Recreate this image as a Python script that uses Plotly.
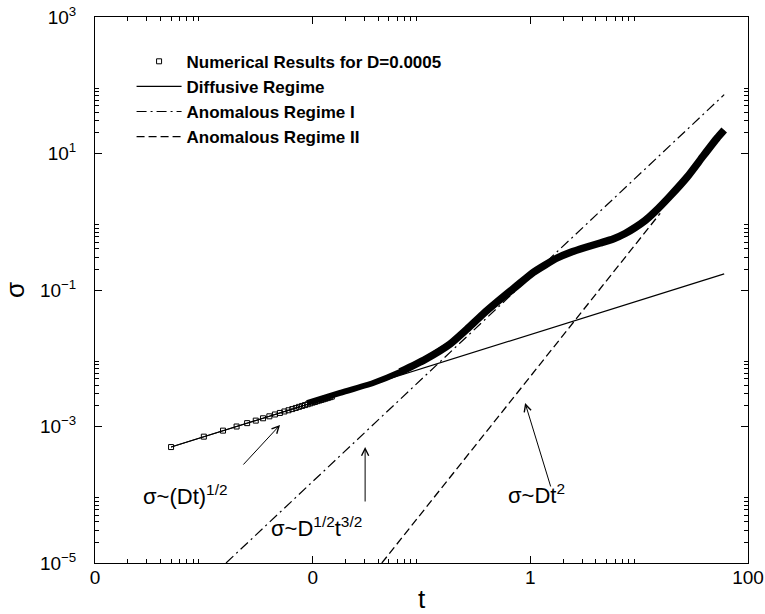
import plotly.graph_objects as go

# ---------------- data ----------------
# early, individually visible numerical points
t_early = [0.0005, 0.001, 0.0015, 0.002, 0.0025, 0.003, 0.0035, 0.004, 0.0045, 0.005,
           0.0055, 0.006, 0.0065, 0.007, 0.0075, 0.008, 0.0085, 0.009, 0.0095, 0.010,
           0.0105, 0.011, 0.0115, 0.012, 0.0125, 0.013, 0.0135, 0.014, 0.0145, 0.015]
sigma_early = [5.0e-4, 7.1e-4, 8.7e-4, 1.0e-3, 1.12e-3, 1.22e-3, 1.32e-3, 1.41e-3, 1.5e-3, 1.58e-3,
               1.66e-3, 1.73e-3, 1.8e-3, 1.87e-3, 1.94e-3, 2.0e-3, 2.06e-3, 2.12e-3, 2.18e-3, 2.24e-3,
               2.29e-3, 2.35e-3, 2.4e-3, 2.45e-3, 2.5e-3, 2.55e-3, 2.6e-3, 2.65e-3, 2.69e-3, 2.74e-3]

# dense part of the numerical results (markers merge into a thick band)
t_band = [0.00888, 0.01786, 0.0359, 0.0636, 0.1079, 0.1832, 0.2625, 0.3683, 0.5278, 0.7565,
          1.061, 1.368, 1.763, 2.321, 3.189, 4.380, 5.768, 7.434, 9.189, 11.35,
          14.03, 19.27, 27.62, 38.74, 52.12, 60.43]
sigma_band = [2.21e-3, 3.10e-3, 4.34e-3, 6.29e-3, 9.59e-3, 0.01618, 0.02683, 0.04451, 0.0726, 0.1164,
              0.1804, 0.2325, 0.2943, 0.3543, 0.4195, 0.4883, 0.5588, 0.6728, 0.8237, 1.043,
              1.413, 2.384, 4.526, 9.192, 16.87, 22.09]

# regime fits
t_diff = [0.0005, 60.4]
sigma_diff = [5.0e-4, 0.172]
t_anom1 = [0.0016, 60.4]
sigma_anom1 = [1.0e-5, 72.8]
t_anom2 = [0.0432, 15.6]
sigma_anom2 = [1.0e-5, 1.33]

# axes ticks
x_tickvals = [1e-4, 1e-2, 1, 100]
x_ticktext = ["0", "0", "1", "100"]
y_tickvals = [1e-5, 1e-3, 1e-1, 1e1, 1e3]
y_ticktext = ["10<sup>\u22125</sup>", "10<sup>\u22123</sup>", "10<sup>\u22121</sup>",
              "10<sup>1</sup>", "10<sup>3</sup>"]
x_minor = [k * d for d in (1e-4, 1e-2, 1.0) for k in range(2, 10)]
y_minor = [k * d for d in (1e-5, 1e-3, 1e-1, 1e1) for k in range(2, 10)]

FONT = "Liberation Sans, Arial, Helvetica, sans-serif"

fig = go.Figure()

# numerical results: thin connecting line + dense band (thinner at start) + open squares
fig.add_trace(go.Scatter(x=t_early + t_band, y=sigma_early + sigma_band, mode="lines",
                         line=dict(color="black", width=1), showlegend=False, hoverinfo="skip"))
fig.add_trace(go.Scatter(x=t_band[:6], y=sigma_band[:6], mode="lines",
                         line=dict(color="black", width=6, shape="spline", smoothing=0.5),
                         showlegend=False, hoverinfo="skip"))
fig.add_trace(go.Scatter(x=t_band[3:], y=sigma_band[3:], mode="lines",
                         line=dict(color="black", width=7.5, shape="spline", smoothing=0.5),
                         showlegend=False, hoverinfo="skip"))
fig.add_trace(go.Scatter(x=t_early, y=sigma_early, mode="markers",
                         name="Numerical Results for D=0.0005",
                         marker=dict(symbol="square-open", size=5, color="black",
                                     line=dict(width=1, color="black"))))
fig.add_trace(go.Scatter(x=t_diff, y=sigma_diff, mode="lines", name="Diffusive Regime",
                         line=dict(color="black", width=1.2)))
fig.add_trace(go.Scatter(x=t_anom1, y=sigma_anom1, mode="lines", name="Anomalous Regime I",
                         line=dict(color="black", width=1.2, dash="10px,4px,2px,4px")))
fig.add_trace(go.Scatter(x=t_anom2, y=sigma_anom2, mode="lines", name="Anomalous Regime II",
                         line=dict(color="black", width=1.3, dash="8px,4px")))

# annotations (log10 coordinates on log axes)
txt = dict(showarrow=False, font=dict(family=FONT, size=22, color="black"),
           xref="x", yref="y", xanchor="center", yanchor="middle")
fig.add_annotation(x=-3.177, y=-4.00, text="\u03c3~(Dt)<sup>1/2</sup>", **txt)
fig.add_annotation(x=-1.964, y=-4.47, text="\u03c3~D<sup>1/2</sup>t<sup>3/2</sup>", **txt)
fig.add_annotation(x=0.053, y=-3.99, text="\u03c3~Dt<sup>2</sup>", **txt)

arr = dict(text="", showarrow=True, arrowhead=5, arrowsize=1.4, arrowwidth=1,
           arrowcolor="black", xref="x", yref="y", axref="x", ayref="y", standoff=0)
fig.add_annotation(x=-2.300, y=-2.978, ax=-2.649, ay=-3.579, **arr)
fig.add_annotation(x=-1.518, y=-3.300, ax=-1.518, ay=-4.121, **arr)
fig.add_annotation(x=-0.048, y=-2.656, ax=0.191, ay=-3.901, **arr)

axis_common = dict(showgrid=False, zeroline=False, showline=True, linecolor="black",
                   linewidth=1, mirror="allticks", ticks="inside", ticklen=7, tickwidth=1,
                   tickcolor="black", automargin=False,
                   tickfont=dict(family=FONT, size=19, color="black"))

fig.update_xaxes(type="log", range=[-4, 2], tickmode="array", tickvals=x_tickvals,
                 ticktext=x_ticktext, ticklabelstandoff=-3,
                 minor=dict(tickmode="array", tickvals=x_minor, ticks="inside", ticklen=4,
                            tickwidth=1, tickcolor="black"),
                 title=dict(text="t", font=dict(family=FONT, size=26, color="black"), standoff=13),
                 **axis_common)
fig.update_yaxes(type="log", range=[-5, 3], tickmode="array", tickvals=y_tickvals,
                 ticktext=y_ticktext, ticklabelstandoff=14,
                 minor=dict(tickmode="array", tickvals=y_minor, ticks="inside", ticklen=4,
                            tickwidth=1, tickcolor="black"),
                 title=dict(text="\u03c3", font=dict(family=FONT, size=26, color="black"), standoff=8),
                 **axis_common)

fig.update_layout(
    width=765, height=614,
    margin=dict(l=95, r=17, t=17, b=51),
    paper_bgcolor="white", plot_bgcolor="white",
    font=dict(family=FONT, color="black"),
    legend=dict(x=0.056, y=0.951, xanchor="left", yanchor="top", bgcolor="rgba(0,0,0,0)",
                font=dict(family=FONT, size=17, color="black", weight="bold"),
                itemwidth=45, tracegroupgap=0),
)

fig.write_html("out.html")
